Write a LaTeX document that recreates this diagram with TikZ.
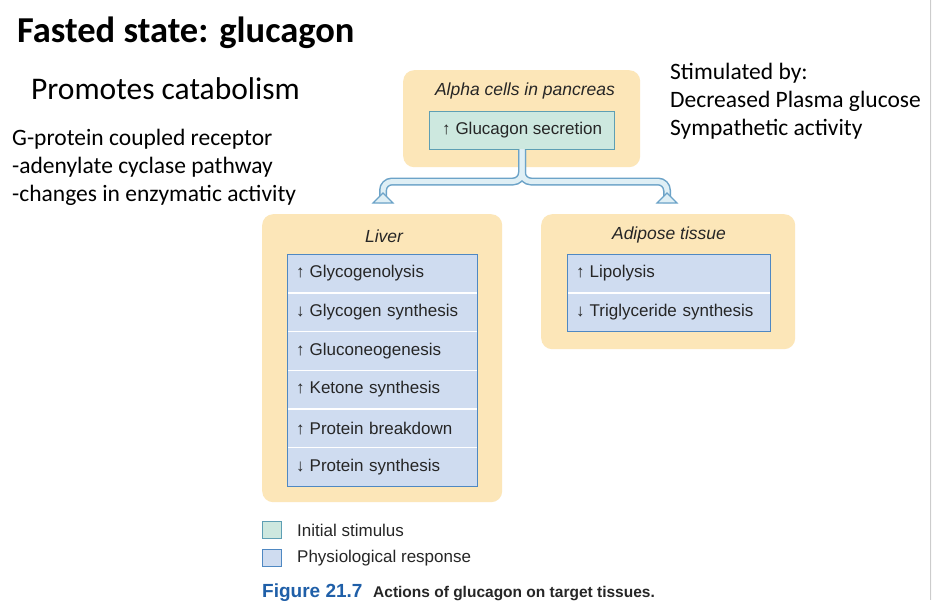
\documentclass[tikz,border=0pt]{standalone}
\usepackage{fontspec}
\setmainfont{Carlito}
\newfontfamily\figfont{Liberation Sans}
\definecolor{tanbg}{HTML}{FCE6B8}
\definecolor{greenfill}{HTML}{CDE8DF}
\definecolor{greenline}{HTML}{5E9FB4}
\definecolor{bluefill}{HTML}{CFDCF0}
\definecolor{blueline}{HTML}{4F88C2}
\definecolor{arrline}{HTML}{6CA3C8}
\definecolor{arrfill}{HTML}{DFEFF5}
\definecolor{figblue}{HTML}{1F5FA8}
\newcommand{\upar}{{\bfseries ↑}\hspace{5pt}}
\newcommand{\dnar}{{\bfseries ↓}\hspace{5pt}}
\tikzset{
  tanbox/.style={fill=tanbg, draw=none, rounded corners=11pt, anchor=north west, inner sep=0pt},
  boxtitle/.style={font=\figfont\fontsize{17.5}{20}\selectfont\itshape, text=black!85, inner sep=0pt},
  rowbox/.style={fill=bluefill, draw=none, anchor=north west, minimum width=190pt, minimum height=38.67pt, inner xsep=9pt, inner ysep=0pt, text width=172pt, align=left, font=\figfont\fontsize{17}{19}\selectfont, text=black!85},
  arrshaft/.style={line width=8pt, draw=arrline, rounded corners=9pt},
  arrinner/.style={line width=5pt, draw=arrfill, rounded corners=9pt},
  arrhead/.style={fill=arrfill, draw=arrline, line width=1.2pt, line join=miter},
  slidetext/.style={anchor=base west, inner sep=0pt, font=\fontsize{23.5}{28}\selectfont, align=left},
  legtext/.style={anchor=west, inner sep=0pt, font=\figfont\fontsize{17}{19}\selectfont, text=black!85},
}
\begin{document}
\begin{tikzpicture}[x=1pt, y=-1pt]
\useasboundingbox (0,0) rectangle (932,600);
\clip (0,0) rectangle (932,600);
\fill[white] (0,0) rectangle (932,600);
\fill[black!2] (931,0) rectangle (932,600);
\draw[black!20, line width=0.8pt] (930.5,0) -- (930.5,600);

% slide texts
\node[anchor=base west, inner sep=0pt, font=\bfseries\fontsize{36.5}{40}\selectfont] (title) at (17,42) {Fasted state: glucagon};
\node[anchor=base west, inner sep=0pt, font=\fontsize{31.5}{36}\selectfont] (promo) at (31,99) {Promotes catabolism};
\node[slidetext] (g1) at (12,145) {G-protein coupled receptor};
\node[slidetext] (g2) at (12,173) {-adenylate cyclase pathway};
\node[slidetext] (g3) at (12,201) {-changes in enzymatic activity};
\node[slidetext] (s1) at (670,79) {Stimulated by:};
\node[slidetext] (s2) at (670,107) {Decreased Plasma glucose};
\node[slidetext] (s3) at (670,135) {Sympathetic activity};

% alpha cells
\node[tanbox, minimum width=237pt, minimum height=97pt] (alpha) at (403,70) {};
\node[boxtitle] (alphat) at (525,91) {Alpha cells in pancreas};
\node[fill=greenfill, draw=greenline, line width=1pt, anchor=north west, minimum width=185pt, minimum height=38pt, inner sep=0pt, font=\figfont\fontsize{17}{19}\selectfont, text=black!85] (glu) at (429,111) {\upar Glucagon secretion};

% liver
\node[tanbox, minimum width=240pt, minimum height=288pt] (liver) at (262,214) {};
\node[boxtitle] (livert) at (384,236) {Liver};
\node[rowbox] (r1) at (287,254) {\upar Glycogenolysis};
\node[rowbox] (r2) at (287,292.67) {\dnar Glycogen synthesis};
\node[rowbox] (r3) at (287,331.33) {\upar Gluconeogenesis};
\node[rowbox] (r4) at (287,370) {\upar Ketone synthesis};
\node[rowbox] (r5) at (287,408.67) {\upar Protein breakdown};
\node[rowbox] (r6) at (287,447.33) {\dnar Protein synthesis};
\foreach \a in {r1,r2,r3,r4,r5}
  \draw[white, line width=1.5pt] (\a.south west) -- (\a.south east);
\draw[blueline, line width=1pt] (r1.north west) rectangle (r6.south east);

% adipose
\node[tanbox, minimum width=254pt, minimum height=135pt] (adip) at (541,214) {};
\node[boxtitle] (adipt) at (669,235) {Adipose tissue};
\node[rowbox, minimum width=203pt, text width=185pt] (a1) at (567,254) {\upar Lipolysis};
\node[rowbox, minimum width=203pt, text width=185pt] (a2) at (567,292.67) {\dnar Triglyceride synthesis};
\draw[white, line width=1.5pt] (a1.south west) -- (a1.south east);
\draw[blueline, line width=1pt] (a1.north west) rectangle (a2.south east);

% connector
\coordinate (la) at (383,203);
\coordinate (ra) at (667,203);
\draw[arrshaft] (glu.south) |- (383,181.5) -- (la);
\draw[arrshaft] (glu.south) |- (667,181.5) -- (ra);
\draw[arrinner] ([yshift=1pt]glu.south) |- (383,181.5) -- ([yshift=1pt]la);
\draw[arrinner] ([yshift=1pt]glu.south) |- (667,181.5) -- ([yshift=1pt]ra);
\draw[arrhead] ([xshift=-10pt]la) -- ([xshift=10pt]la) -- ([yshift=10pt]la) -- cycle;
\draw[arrhead] ([xshift=-10pt]ra) -- ([xshift=10pt]ra) -- ([yshift=10pt]ra) -- cycle;

% legend
\node[fill=greenfill, draw=greenline, line width=1pt, anchor=north west, minimum width=19pt, minimum height=17pt, inner sep=0pt] (lg1) at (262,521) {};
\node[legtext] (lt1) at (297,530) {Initial stimulus};
\node[fill=bluefill, draw=blueline, line width=1pt, anchor=north west, minimum width=19pt, minimum height=17pt, inner sep=0pt] (lg2) at (262,549) {};
\node[legtext] (lt2) at (297,558) {Physiological response};

% caption
\node[anchor=base west, inner sep=0pt, font=\figfont\bfseries\fontsize{19}{20}\selectfont, text=figblue] (fig) at (262,597) {Figure 21.7};
\node[anchor=base west, inner sep=0pt, font=\figfont\bfseries\fontsize{15.5}{18}\selectfont, text=black!85] (cap) at (373,597) {Actions of glucagon on target tissues.};
\end{tikzpicture}
\end{document}
